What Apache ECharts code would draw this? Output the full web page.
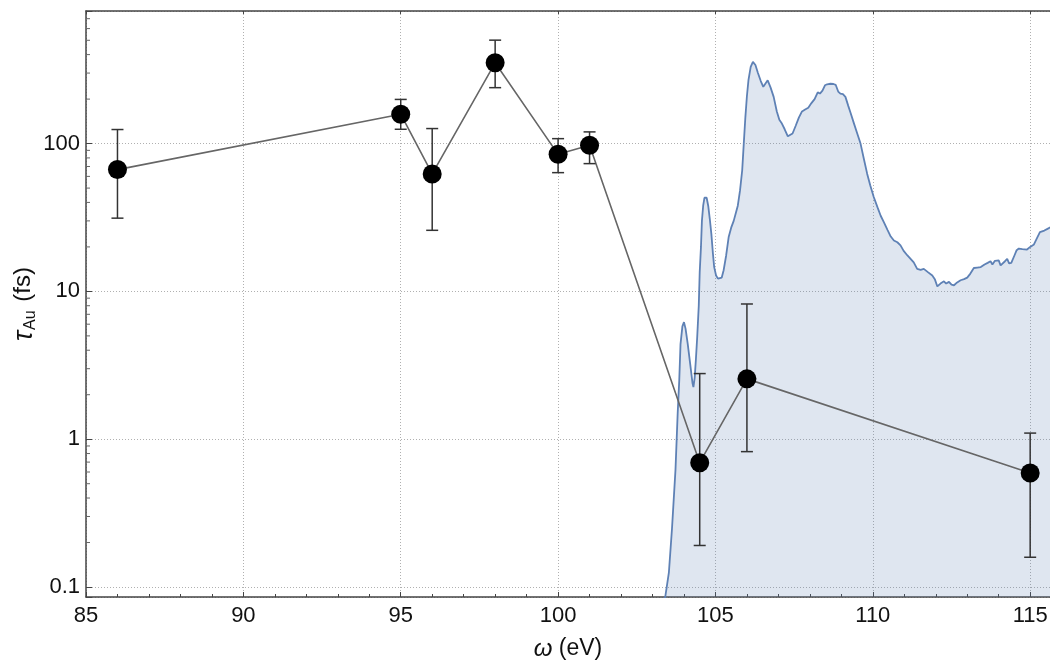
<!DOCTYPE html>
<html><head><meta charset="utf-8">
<script src="https://cdn.jsdelivr.net/npm/echarts@6/dist/echarts.min.js"></script>
<style>html,body{margin:0;padding:0;background:#fff}#c{width:1050px;height:662px}</style>
</head><body><div id="c"></div>
<script>
// Measured lifetimes (fs) vs photon energy (eV)
const energies = [86, 95, 96, 98, 100, 101, 104.5, 106, 115];
const tau      = [66.7, 158, 62.3, 352, 84.6, 97.4, 0.694, 2.56, 0.591];
const errLow   = [31.3, 125, 25.9, 239, 63.6, 73.2, 0.191, 0.824, 0.159];
const errHigh  = [124.5, 199, 126.4, 501, 108, 120, 2.78, 8.22, 1.10];

// Background spectrum (filled blue curve)
const specX = [103.30,103.41,103.52,103.62,103.73,103.80,103.85,103.89,103.95,104.00,104.05,104.12,104.20,104.27,104.30,104.34,104.38,104.42,104.47,104.50,104.54,104.57,104.61,104.65,104.68,104.72,104.77,104.82,104.87,104.92,104.96,105.02,105.08,105.14,105.20,105.26,105.34,105.42,105.50,105.58,105.65,105.71,105.78,105.85,105.90,105.95,106.00,106.05,106.12,106.19,106.27,106.35,106.44,106.52,106.59,106.66,106.75,106.85,106.95,107.03,107.10,107.20,107.30,107.36,107.45,107.55,107.65,107.75,107.85,107.95,108.05,108.15,108.25,108.32,108.40,108.48,108.55,108.65,108.75,108.82,108.90,108.97,109.05,109.13,109.22,109.30,109.40,109.50,109.61,109.72,109.82,109.92,110.03,110.15,110.25,110.35,110.47,110.57,110.67,110.78,110.88,110.98,111.10,111.20,111.30,111.41,111.52,111.62,111.75,111.89,111.97,112.05,112.15,112.26,112.33,112.42,112.50,112.58,112.68,112.79,112.90,113.00,113.10,113.21,113.32,113.43,113.55,113.65,113.74,113.80,113.88,114.00,114.06,114.12,114.20,114.27,114.33,114.40,114.50,114.57,114.64,114.75,114.90,115.00,115.12,115.22,115.31,115.45,115.55,115.65];
const specY = [0.06,0.087,0.125,0.25,0.62,1.5,2.5,4.4,5.8,6.2,5.6,4.4,3.2,2.4,2.25,2.6,3.5,4.9,8.0,13.5,20,30,38,43,44,43,38,31,24.5,18,14.6,12.8,12.2,11.9,12.4,13.9,17.5,23.3,27,30,34,38,48,66,100,150,210,270,330,357,340,300,265,242,255,268,240,207,165,145,138,125,112,110,117,132,150,165,170,175,188,200,222,218,228,248,252,254,253,250,225,218,216,207,180,160,137,118,100,78,62.6,52,43.5,37,32.5,29.4,26,23.5,22.1,21.5,20.5,18.8,17.5,16.6,15.7,14.2,14.0,14.2,13.5,12.8,12.1,10.8,11.3,11.7,11.3,11.6,11.1,11.0,11.5,11.9,12.1,12.4,13.2,14.4,14.5,14.6,15.2,15.6,16.0,15.2,16.1,16.2,15.0,14.9,16.0,16.6,15.5,15.6,17.5,19.0,19.5,19.3,19.2,20.0,20.8,23,25.2,25.8,26.5,27.2];

// Axis ticks
const xMajorTicks = [85, 90, 95, 100, 105, 110, 115];
const yMajorTicks = [0.1, 1, 10, 100];
const X_MIN = 85, X_MAX = 115.63, Y_MIN = 0.0856, Y_MAX = 789;
const yMinorTicks = [];
yMajorTicks.forEach(d => { for (let k = 2; k <= 9; k++) { const v = +(d * k).toPrecision(3); if (v <= Y_MAX) yMinorTicks.push(v); } });

const FONT = 'Liberation Sans, Arial, sans-serif';
const AXIS_COLOR = '#444';
const gridLine = { show: true, lineStyle: { color: '#b0b0b0', width: 1, type: [1, 2] } };

const chart = echarts.init(document.getElementById('c'), null, { renderer: 'canvas' });
chart.setOption({
  animation: false,
  backgroundColor: '#fff',
  grid: { left: 86, top: 11, right: 0, bottom: 65, containLabel: false, outerBoundsMode: 'none' },
  xAxis: [{
    type: 'value', min: X_MIN, max: X_MAX, interval: 5, position: 'bottom',
    name: '{w|ω} (eV)', nameLocation: 'middle', nameGap: 40, nameMoveOverlap: false,
    nameTextStyle: { fontSize: 23, color: '#111', fontFamily: FONT, rich: { w: { fontSize: 24, fontStyle: 'italic', fontFamily: FONT, color: '#111' } } },
    axisLine: { show: true, lineStyle: { color: AXIS_COLOR, width: 1.5 } },
    axisTick: { show: true, inside: true, length: 5, lineStyle: { color: AXIS_COLOR } },
    minorTick: { show: true, splitNumber: 5, length: 3, lineStyle: { color: AXIS_COLOR } },
    axisLabel: { fontSize: 22, color: '#111', fontFamily: FONT, margin: 8,
      formatter: v => xMajorTicks.includes(Math.round(v * 100) / 100) ? String(v) : '' },
    splitLine: gridLine
  }, {
    type: 'value', min: X_MIN, max: X_MAX, interval: 5, position: 'top',
    axisLine: { show: true, lineStyle: { color: AXIS_COLOR, width: 1.5 } },
    axisTick: { show: true, inside: true, length: 3, lineStyle: { color: AXIS_COLOR } },
    axisLabel: { show: false }, splitLine: { show: false }
  }],
  yAxis: [{
    type: 'log', logBase: 10, min: Y_MIN, max: Y_MAX, position: 'left',
    name: '{t|τ}{s|Au}{n| (fs)}', nameLocation: 'middle', nameRotate: 90, nameGap: 47, nameMoveOverlap: false,
    nameTextStyle: { fontFamily: FONT, color: '#111', rich: {
      t: { fontSize: 27, fontStyle: 'italic', fontFamily: FONT, color: '#111', lineHeight: 28, verticalAlign: 'top' },
      s: { fontSize: 16, fontFamily: FONT, color: '#111', lineHeight: 16, verticalAlign: 'bottom', padding: [0, 2, 0, 1] },
      n: { fontSize: 24, fontFamily: FONT, color: '#111', lineHeight: 28, verticalAlign: 'top' }
    } },
    axisLine: { show: true, lineStyle: { color: AXIS_COLOR, width: 1.5 } },
    axisTick: { show: true, inside: true, length: 6, lineStyle: { color: AXIS_COLOR } },
    axisLabel: { fontSize: 22, color: '#111', fontFamily: FONT, margin: 6,
      formatter: v => { const m = yMajorTicks.find(t => Math.abs(t - v) / t < 1e-6); return m !== undefined ? String(m) : ''; } },
    splitLine: gridLine
  }],
  series: [{
    type: 'line', xAxisIndex: 0, yAxisIndex: 0, z: 1,
    data: specX.map((x, i) => [x, specY[i]]),
    showSymbol: false, clip: true, smooth: false,
    lineStyle: { color: '#5E81B5', width: 1.8 },
    areaStyle: { color: '#5E81B5', opacity: 0.2, origin: 'start' }
  }, {
    type: 'line', xAxisIndex: 0, yAxisIndex: 0, z: 2,
    data: energies.map((x, i) => [x, tau[i]]),
    showSymbol: false, lineStyle: { color: '#666', width: 1.6 }
  }, {
    type: 'custom', xAxisIndex: 0, yAxisIndex: 0, z: 3,
    data: energies.map((x, i) => [x, errLow[i], errHigh[i]]),
    encode: { x: 0, y: [1, 2] },
    renderItem: (params, api) => {
      const x = api.value(0);
      const lo = api.coord([x, api.value(1)]);
      const hi = api.coord([x, api.value(2)]);
      const w = 6, st = { stroke: '#333', lineWidth: 1.5 };
      return { type: 'group', children: [
        { type: 'line', shape: { x1: lo[0], y1: lo[1], x2: hi[0], y2: hi[1] }, style: st },
        { type: 'line', shape: { x1: lo[0] - w, y1: lo[1], x2: lo[0] + w, y2: lo[1] }, style: st },
        { type: 'line', shape: { x1: hi[0] - w, y1: hi[1], x2: hi[0] + w, y2: hi[1] }, style: st }
      ] };
    }
  }, {
    type: 'scatter', xAxisIndex: 0, yAxisIndex: 0, z: 4,
    data: energies.map((x, i) => [x, tau[i]]),
    symbol: 'circle', symbolSize: 19, itemStyle: { color: '#000', opacity: 1 }
  }, {
    // minor log ticks on the left frame
    type: 'custom', xAxisIndex: 0, yAxisIndex: 0, z: 5, silent: true, clip: false,
    data: yMinorTicks.map(v => [X_MIN, v]),
    encode: { x: 0, y: 1 },
    renderItem: (params, api) => {
      const p = api.coord([api.value(0), api.value(1)]);
      return { type: 'line', shape: { x1: p[0], y1: p[1], x2: p[0] + 4, y2: p[1] }, style: { stroke: '#666', lineWidth: 1 } };
    }
  }]
});
</script></body></html>
